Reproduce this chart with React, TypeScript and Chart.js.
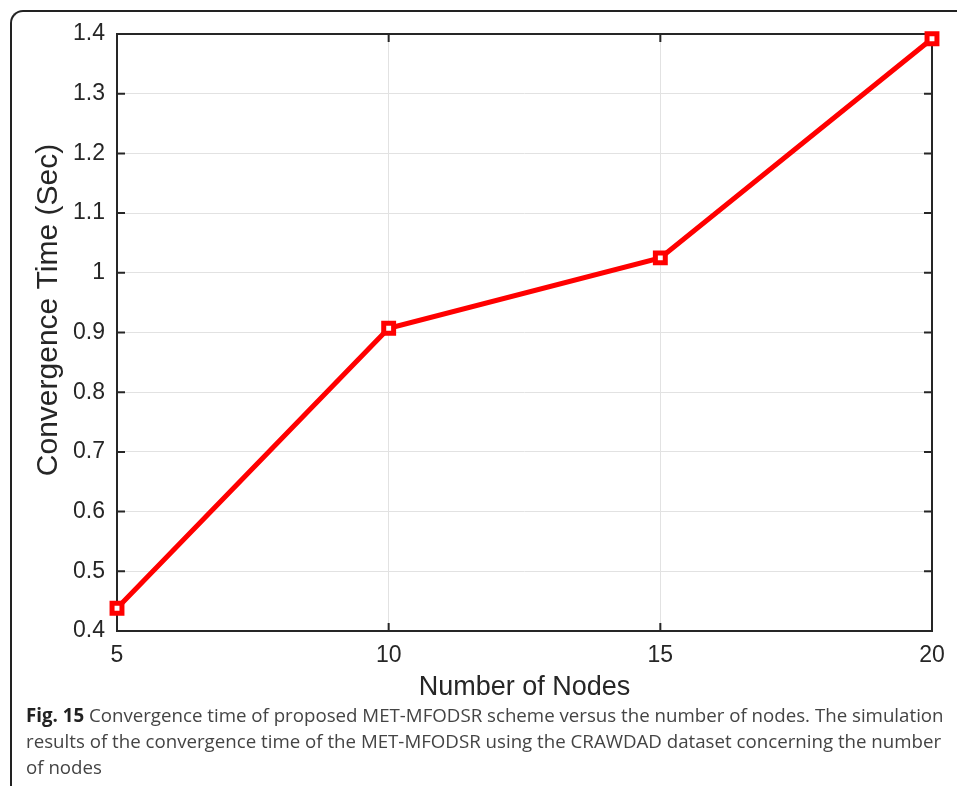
import React, { useEffect, useRef } from "react";
import { Chart, registerables } from "chart.js";

Chart.register(...registerables);

const nodes = [5, 10, 15, 20];
const convergenceTime = [0.438, 0.907, 1.025, 1.392];
const xTicks = [5, 10, 15, 20];
const yTicks = [0.4, 0.5, 0.6, 0.7, 0.8, 0.9, 1.0, 1.1, 1.2, 1.3, 1.4];
const xTitle = "Number of Nodes";
const yTitle = "Convergence Time (Sec)";

const AXIS_FONT = '"Liberation Sans", Arial, Helvetica, sans-serif';
const AXIS_COLOR = "#262626";

const boxPlugin = {
  id: "matlabBox",
  beforeDatasetsDraw(chart: any) {
    const { ctx, chartArea } = chart;
    const { left, right, top, bottom } = chartArea;
    const xs = chart.scales.x;
    const ys = chart.scales.y;
    const tl = 8;
    ctx.save();
    ctx.strokeStyle = AXIS_COLOR;
    ctx.lineWidth = 2;
    ctx.beginPath();
    xTicks.forEach((v) => {
      const px = xs.getPixelForValue(v);
      ctx.moveTo(px, bottom);
      ctx.lineTo(px, bottom - tl);
      ctx.moveTo(px, top);
      ctx.lineTo(px, top + tl);
    });
    yTicks.forEach((v) => {
      const py = ys.getPixelForValue(v);
      ctx.moveTo(left, py);
      ctx.lineTo(left + tl, py);
      ctx.moveTo(right, py);
      ctx.lineTo(right - tl, py);
    });
    ctx.stroke();
    ctx.strokeRect(left, top, right - left, bottom - top);
    ctx.restore();
  },
  afterDraw(chart: any) {
    const { ctx } = chart;
    ctx.save();
    ctx.fillStyle = AXIS_COLOR;
    ctx.font = `30px ${AXIS_FONT}`;
    ctx.textAlign = "center";
    ctx.textBaseline = "middle";
    ctx.translate(49, 310);
    ctx.rotate(-Math.PI / 2);
    ctx.fillText(yTitle, 0, 0);
    ctx.restore();
  },
};

export default function App() {
  const ref = useRef<HTMLCanvasElement | null>(null);

  useEffect(() => {
    document.body.style.margin = "0";
    if (!ref.current) return;
    const chart = new Chart(ref.current, {
      type: "line",
      data: {
        datasets: [
          {
            data: nodes.map((n, i) => ({ x: n, y: convergenceTime[i] })),
            borderColor: "#ff0000",
            borderWidth: 5,
            pointStyle: "rect",
            pointRadius: 7,
            pointBorderWidth: 5,
            pointBackgroundColor: "#ffffff",
            pointBorderColor: "#ff0000",
            tension: 0,
            clip: false as any,
          },
        ],
      },
      options: {
        animation: false,
        responsive: false,
        maintainAspectRatio: false,
        events: [],
        layout: { padding: { left: 20, right: 25, top: 34, bottom: 16 } },
        plugins: {
          legend: { display: false },
          tooltip: { enabled: false },
        },
        scales: {
          x: {
            type: "linear",
            min: 5,
            max: 20,
            afterBuildTicks(scale: any) {
              scale.ticks = xTicks.map((v) => ({ value: v }));
            },
            afterFit(scale: any) {
              scale.height = 73;
            },
            ticks: {
              color: AXIS_COLOR,
              font: { family: AXIS_FONT, size: 23, lineHeight: 1.2 },
              padding: 11,
              maxRotation: 0,
              callback: (v: any) => String(v),
            },
            grid: { color: "#e2e2e2", lineWidth: 1, drawTicks: false },
            border: { display: false },
            title: {
              display: true,
              text: xTitle,
              color: AXIS_COLOR,
              font: { family: AXIS_FONT, size: 27, lineHeight: 1.2 },
              padding: { top: 0, bottom: 0 },
            },
          },
          y: {
            type: "linear",
            min: 0.4,
            max: 1.4,
            afterBuildTicks(scale: any) {
              scale.ticks = yTicks.map((v) => ({ value: v }));
            },
            afterFit(scale: any) {
              scale.width = 97;
            },
            ticks: {
              color: AXIS_COLOR,
              font: { family: AXIS_FONT, size: 23, lineHeight: 1.2 },
              padding: 12,
              callback: (v: any) => String(Number(Number(v).toFixed(1))),
            },
            grid: { color: "#e2e2e2", lineWidth: 1, drawTicks: false },
            border: { display: false },
            title: { display: false },
          },
        },
      },
      plugins: [boxPlugin],
    });
    return () => chart.destroy();
  }, []);

  return (
    <div style={{ position: "relative", width: 957, height: 786, overflow: "hidden", background: "#fff" }}>
      <div
        style={{
          position: "absolute",
          left: 10,
          top: 10,
          width: 1100,
          height: 1000,
          borderLeft: "2px solid #222",
          borderTop: "2px solid #222",
          borderTopLeftRadius: 13,
          boxSizing: "border-box",
        }}
      />
      <canvas ref={ref} width={957} height={720} style={{ position: "absolute", left: 0, top: 0, width: 957, height: 720 }} />
      <div
        style={{
          position: "absolute",
          left: 26,
          top: 702,
          fontFamily: '"Open Sans", sans-serif',
          fontSize: 18.7,
          lineHeight: "26px",
          color: "#444",
          whiteSpace: "nowrap",
        }}
      >
        <div>
          <b style={{ color: "#222" }}>Fig. 15</b> Convergence time of proposed MET-MFODSR scheme versus the number of nodes. The simulation
        </div>
        <div>results of the convergence time of the MET-MFODSR using the CRAWDAD dataset concerning the number</div>
        <div>of nodes</div>
      </div>
    </div>
  );
}
